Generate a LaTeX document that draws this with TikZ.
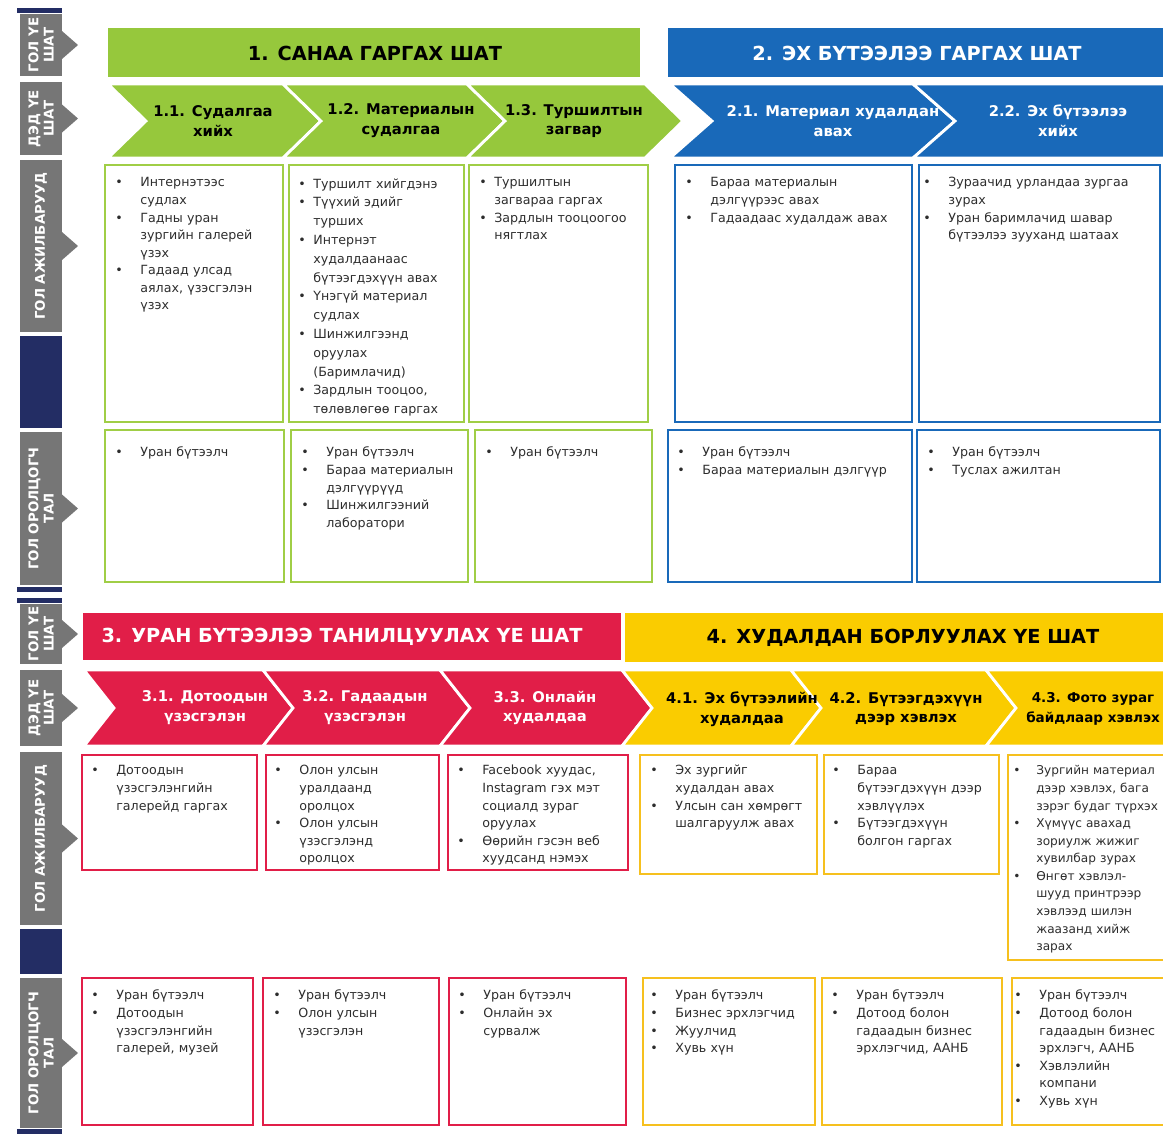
\documentclass[tikz,border=0pt]{standalone}
\usepackage{fontspec}
\setmainfont{DejaVu Sans}
\usetikzlibrary{positioning}

\definecolor{stgreen}{RGB}{150,200,60}
\definecolor{stgreenline}{RGB}{160,206,70}
\definecolor{stblue}{RGB}{25,105,185}
\definecolor{stred}{RGB}{225,30,72}
\definecolor{styellow}{RGB}{250,204,0}
\definecolor{styellowline}{RGB}{246,192,30}
\definecolor{lblgray}{RGB}{118,118,118}
\definecolor{lblnavy}{RGB}{35,45,100}
\definecolor{bodytxt}{RGB}{45,45,45}

\newlength\bgap
\setlength\bgap{0.5cm}
% line break that stays inside the same item
\newcommand\br{\unskip\nobreak\hfil\break}
% one bullet item of a list, hanging indent after the first line
\newcommand\itm[1]{\par\noindent\hangindent=\bgap\hangafter=1\makebox[\bgap][l]{•}#1\par}
% chevron: fill, left x, right x, top y, bottom y, tip depth
\newcommand\chevron[6]{%
  \filldraw[fill=#1, draw=white, line width=1.6pt]
    (#2,#4) -- (#3,#4) -- ({#3+#6},{(#4+#5)/2}) -- (#3,#5) -- (#2,#5) -- ({#2+#6},{(#4+#5)/2}) -- cycle;}
% row label: top y, bottom y, name, text
\newcommand\sidelabel[4]{%
  \fill[lblgray] (20,#1) rectangle (62,#2);
  \fill[lblgray] (62,{(#1+#2)/2-14}) -- (78,{(#1+#2)/2}) -- (62,{(#1+#2)/2+14}) -- cycle;
  \node[sidetxt] (#3) at (41,{(#1+#2)/2}) {#4};}

\begin{document}
\begin{tikzpicture}[
        x=0.02cm, y=-0.02cm,
        headtxt/.style={font=\fontsize{11}{12}\selectfont\bfseries, inner sep=0pt},
        chevtxt/.style={font=\fontsize{8.4}{11.3}\selectfont\bfseries, align=center, inner sep=0pt},
        sidetxt/.style={rotate=90, text=white, font=\fontsize{7.6}{8.6}\selectfont\bfseries, align=center, inner sep=0pt},
        listbox/.style={anchor=north west, inner sep=0pt, text width=#1, align=left, text=bodytxt, font=\fontsize{7.2}{10}\selectfont},
        tight/.style={execute at begin node={\setlength\bgap{0.3cm}}},
        gbox/.style={draw=stgreenline, line width=1.4pt},
        bbox/.style={draw=stblue, line width=1.4pt},
        rbox/.style={draw=stred, line width=1.4pt},
        ybox/.style={draw=styellowline, line width=1.4pt}
    ]
    \useasboundingbox (0,0) rectangle (1163,1134);
    \clip (0,0) rectangle (1163,1134);

    % --- LEFT COLUMN: row labels (top half) ---
    \fill[lblnavy] (17,8) rectangle (62,13);
    \sidelabel{14}{76}{lblmainA}{ГОЛ ҮЕ\\ШАТ}
    \sidelabel{82}{155}{lblsubA}{ДЭД ҮЕ\\ШАТ}
    \sidelabel{160}{332}{lbltaskA}{ГОЛ АЖИЛБАРУУД}
    \fill[lblnavy] (20,336) rectangle (62,428);
    \sidelabel{432}{585}{lblpartA}{ГОЛ ОРОЛЦОГЧ\\ТАЛ}
    \fill[lblnavy] (17,587) rectangle (62,592);

    % --- ROW 1: main stages 1 and 2 ---
    \fill[stgreen] (108,28) rectangle (640,77);
    \node[headtxt] (stage1) at (375,53) {1. САНАА ГАРГАХ ШАТ};
    \fill[stblue] (668,28) rectangle (1163,77);
    \node[headtxt, text=white] (stage2) at (917,53) {2. ЭХ БҮТЭЭЛЭЭ ГАРГАХ ШАТ};

    % --- ROW 2: sub stages ---
    \chevron{stgreen}{108}{283}{84}{158}{38}
    \chevron{stgreen}{283}{467}{84}{158}{38}
    \chevron{stgreen}{467}{645}{84}{158}{38}
    \chevron{stblue}{670}{913}{84}{158}{42}
    \chevron{stblue}{913}{1200}{84}{158}{42}
    \node[chevtxt] (sub11) at (213,121) {1.1. Судалгаа\\хийх};
    \node[chevtxt] (sub12) at (401,121) {1.2. Материалын\\судалгаа};
    \node[chevtxt] (sub13) at (574,121) {1.3. Туршилтын\\загвар};
    \node[chevtxt, text=white] (sub21) at (833,121) {2.1. Материал худалдан\\авах};
    \node[chevtxt, text=white] (sub22) at (1058,121) {2.2. Эх бүтээлээ\\хийх};

    % --- ROW 3: main tasks ---
    \draw[gbox] (105,165) rectangle (283,422);
    \draw[gbox] (289,165) rectangle (464,422);
    \draw[gbox] (469,165) rectangle (648,422);
    \draw[bbox] (675,165) rectangle (912,422);
    \draw[bbox] (919,165) rectangle (1160,422);
    \node[listbox=3.3cm] (task11) at (115,169) {\itm{Интернэтээс\br судлах}\itm{Гадны уран\br зургийн галерей\br үзэх}\itm{Гадаад улсад\br аялах, үзэсгэлэн\br үзэх}};
    \node[listbox=3.3cm, tight, font=\fontsize{7.2}{10.7}\selectfont] (task12) at (298,169) {\itm{Туршилт хийгдэнэ}\itm{Түүхий эдийг\br турших}\itm{Интернэт\br худалдаанаас\br бүтээгдэхүүн авах}\itm{Үнэгүй материал\br судлах}\itm{Шинжилгээнд\br оруулах\br (Баримлачид)}\itm{Зардлын тооцоо,\br төлөвлөгөө гаргах}};
    \node[listbox=3.4cm, tight] (task13) at (479,169) {\itm{Туршилтын\br загвараа гаргах}\itm{Зардлын тооцоогоо\br нягтлах}};
    \node[listbox=4.5cm] (task21) at (685,169) {\itm{Бараа материалын\br дэлгүүрээс авах}\itm{Гадаадаас худалдаж авах}};
    \node[listbox=4.6cm] (task22) at (923,169) {\itm{Зураачид урландаа зургаа\br зурах}\itm{Уран баримлачид шавар\br бүтээлээ зууханд шатаах}};

    % --- ROW 4: main participants ---
    \draw[gbox] (105,430) rectangle (284,582);
    \draw[gbox] (291,430) rectangle (468,582);
    \draw[gbox] (475,430) rectangle (652,582);
    \draw[bbox] (668,430) rectangle (912,582);
    \draw[bbox] (917,430) rectangle (1160,582);
    \node[listbox=3.3cm] (part11) at (115,439) {\itm{Уран бүтээлч}};
    \node[listbox=3.3cm] (part12) at (301,439) {\itm{Уран бүтээлч}\itm{Бараа материалын\br дэлгүүрүүд}\itm{Шинжилгээний\br лаборатори}};
    \node[listbox=3.3cm] (part13) at (485,439) {\itm{Уран бүтээлч}};
    \node[listbox=4.6cm] (part21) at (677,439) {\itm{Уран бүтээлч}\itm{Бараа материалын дэлгүүр}};
    \node[listbox=4.6cm] (part22) at (927,439) {\itm{Уран бүтээлч}\itm{Туслах ажилтан}};

    % --- LEFT COLUMN: row labels (bottom half) ---
    \fill[lblnavy] (17,598) rectangle (62,603);
    \sidelabel{604}{664}{lblmainB}{ГОЛ ҮЕ\\ШАТ}
    \sidelabel{670}{746}{lblsubB}{ДЭД ҮЕ\\ШАТ}
    \sidelabel{752}{925}{lbltaskB}{ГОЛ АЖИЛБАРУУД}
    \fill[lblnavy] (20,929) rectangle (62,974);
    \sidelabel{978}{1128}{lblpartB}{ГОЛ ОРОЛЦОГЧ\\ТАЛ}
    \fill[lblnavy] (17,1129) rectangle (62,1134);

    % --- ROW 5: main stages 3 and 4 ---
    \fill[stred] (83,613) rectangle (621,660);
    \node[headtxt, text=white] (stage3) at (342,637) {3. УРАН БҮТЭЭЛЭЭ ТАНИЛЦУУЛАХ ҮЕ ШАТ};
    \fill[styellow] (625,613) rectangle (1163,662);
    \node[headtxt] (stage4) at (903,638) {4. ХУДАЛДАН БОРЛУУЛАХ ҮЕ ШАТ};

    % --- ROW 6: sub stages ---
    \chevron{stred}{84}{263}{670}{746}{30}
    \chevron{stred}{263}{440}{670}{746}{30}
    \chevron{stred}{440}{622}{670}{746}{30}
    \chevron{styellow}{622}{791}{670}{746}{30}
    \chevron{styellow}{791}{986}{670}{746}{30}
    \chevron{styellow}{986}{1200}{670}{746}{30}
    \node[chevtxt, text=white] (sub31) at (205,708) {3.1. Дотоодын\\үзэсгэлэн};
    \node[chevtxt, text=white] (sub32) at (365,708) {3.2. Гадаадын\\үзэсгэлэн};
    \node[chevtxt, text=white] (sub33) at (545,708) {3.3. Онлайн\\худалдаа};
    \node[chevtxt] (sub41) at (742,709) {4.1. Эх бүтээлийн\\худалдаа};
    \node[chevtxt] (sub42) at (906,709) {4.2. Бүтээгдэхүүн\\дээр хэвлэх};
    \node[chevtxt, font=\fontsize{7.7}{11.3}\selectfont\bfseries] (sub43) at (1093,709) {4.3. Фото зураг\\байдлаар хэвлэх};

    % --- ROW 7: main tasks ---
    \draw[rbox] (82,755) rectangle (257,870);
    \draw[rbox] (266,755) rectangle (439,870);
    \draw[rbox] (448,755) rectangle (628,870);
    \draw[ybox] (640,755) rectangle (817,874);
    \draw[ybox] (824,755) rectangle (999,874);
    \draw[ybox] (1008,755) rectangle (1175,960);
    \node[listbox=3.3cm] (task31) at (91,757) {\itm{Дотоодын\br үзэсгэлэнгийн\br галерейд гаргах}};
    \node[listbox=3.3cm] (task32) at (274,757) {\itm{Олон улсын\br уралдаанд\br оролцох}\itm{Олон улсын\br үзэсгэлэнд\br оролцох}};
    \node[listbox=3.4cm] (task33) at (457,757) {\itm{Facebook хуудас,\br Instagram гэх мэт\br социалд зураг\br оруулах}\itm{Өөрийн гэсэн веб\br хуудсанд нэмэх}};
    \node[listbox=3.4cm] (task41) at (650,757) {\itm{Эх зургийг\br худалдан авах}\itm{Улсын сан хөмрөгт\br шалгаруулж авах}};
    \node[listbox=3.4cm] (task42) at (832,757) {\itm{Бараа\br бүтээгдэхүүн дээр\br хэвлүүлэх}\itm{Бүтээгдэхүүн\br болгон гаргах}};
    \node[listbox=3.6cm, font=\fontsize{6.9}{10}\selectfont, execute at begin node={\setlength\bgap{0.46cm}}] (task43) at (1013,757) {\itm{Зургийн материал\br дээр хэвлэх, бага\br зэрэг будаг түрхэх}\itm{Хүмүүс авахад\br зориулж жижиг\br хувилбар зурах}\itm{Өнгөт хэвлэл-\br шууд принтрээр\br хэвлээд шилэн\br жаазанд хийж\br зарах}};

    % --- ROW 8: main participants ---
    \draw[rbox] (82,978) rectangle (253,1125);
    \draw[rbox] (263,978) rectangle (439,1125);
    \draw[rbox] (449,978) rectangle (626,1125);
    \draw[ybox] (643,978) rectangle (815,1125);
    \draw[ybox] (822,978) rectangle (1002,1125);
    \draw[ybox] (1012,978) rectangle (1175,1125);
    \node[listbox=3.3cm] (part31) at (91,982) {\itm{Уран бүтээлч}\itm{Дотоодын\br үзэсгэлэнгийн\br галерей, музей}};
    \node[listbox=3.3cm] (part32) at (273,982) {\itm{Уран бүтээлч}\itm{Олон улсын\br үзэсгэлэн}};
    \node[listbox=3.3cm] (part33) at (458,982) {\itm{Уран бүтээлч}\itm{Онлайн эх\br сурвалж}};
    \node[listbox=3.3cm] (part41) at (650,982) {\itm{Уран бүтээлч}\itm{Бизнес эрхлэгчид}\itm{Жуулчид}\itm{Хувь хүн}};
    \node[listbox=3.4cm] (part42) at (831,982) {\itm{Уран бүтээлч}\itm{Дотоод болон\br гадаадын бизнес\br эрхлэгчид, ААНБ}};
    \node[listbox=3.3cm] (part43) at (1014,982) {\itm{Уран бүтээлч}\itm{Дотоод болон\br гадаадын бизнес\br эрхлэгч, ААНБ}\itm{Хэвлэлийн\br компани}\itm{Хувь хүн}};

\end{tikzpicture}
\end{document}
